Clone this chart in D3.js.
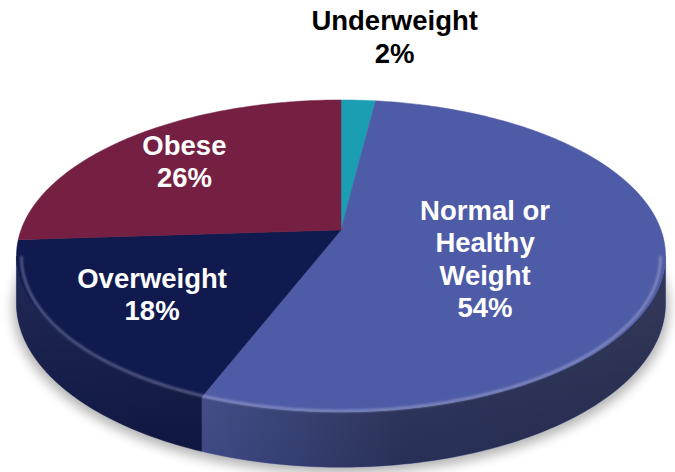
<!DOCTYPE html>
<html>
<head>
<meta charset="utf-8">
<script src="https://cdn.jsdelivr.net/npm/d3@7"></script>
<style>
  html, body { margin: 0; background: #fff; }
  svg { display: block; }
</style>
</head>
<body>
<div id="chart"></div>
<script>
// data
const categories = ["Underweight", "Normal or Healthy Weight", "Overweight", "Obese"];
const values = [2, 54, 18, 26];
const labelLines = [["Underweight"], ["Normal or", "Healthy", "Weight"], ["Overweight"], ["Obese"]];
const topColors = ["#1b9eb1", "#4e5ba6", "#111a4f", "#752043"];

// layout of the tilted pie
const width = 675, height = 472;
const cx = 341, cy = 230, rx = 320, ry = 151.7, depth = 46, persp = 6;
const labelRadius = [1.62, 0.456, 0.681, 0.727];
const labelShift = [[28, 0], [0, 11], [0, -1], [0, 1]];
const fontSize = 27.5, lineGap = 32.5;

// angle (clockwise from 12 o'clock), radius 0..1, z 0 = top face, 1 = bottom
function proj(a, r, z) {
  const X = r * Math.sin(a), Y = -r * Math.cos(a);
  const s = persp / (persp - Y);
  return [cx + rx * X * s, cy + ry * Y * s + depth * z * s];
}

function arcPoints(a0, a1, r, z) {
  const n = Math.max(2, Math.ceil((a1 - a0) / (Math.PI / 180)) + 1);
  return d3.range(n).map(i => proj(a0 + (a1 - a0) * i / (n - 1), r, z));
}

const line = d3.line();
const pie = d3.pie().sort(null).value(d => d)(values);

const svg = d3.select("#chart").append("svg")
  .attr("width", width)
  .attr("height", height);

const defs = svg.append("defs");
defs.append("filter").attr("id", "blur").attr("x", "-10%").attr("y", "-10%").attr("width", "120%").attr("height", "130%")
  .append("feGaussianBlur").attr("stdDeviation", 6);
defs.append("filter").attr("id", "soft")
  .append("feGaussianBlur").attr("stdDeviation", 1.2);

const shade = defs.append("linearGradient").attr("id", "sideShade")
  .attr("gradientUnits", "userSpaceOnUse")
  .attr("x1", 0).attr("x2", width).attr("y1", 0).attr("y2", 0);
[[0, 0.12], [0.3, 0.2], [0.6, 0.48], [1, 0.55]].forEach(([o, a]) =>
  shade.append("stop").attr("offset", o).attr("stop-color", "#000").attr("stop-opacity", a));

const vshade = defs.append("linearGradient").attr("id", "sideLight")
  .attr("x1", 0).attr("x2", 0).attr("y1", 0).attr("y2", 1);
vshade.append("stop").attr("offset", 0).attr("stop-color", "#fff").attr("stop-opacity", 0.08);
vshade.append("stop").attr("offset", 1).attr("stop-color", "#fff").attr("stop-opacity", 0);

// soft shadow under the pie
const bottomRing = arcPoints(0, 2 * Math.PI, 1.01, 1);
svg.append("path")
  .attr("d", line(bottomRing) + "Z")
  .attr("transform", "translate(0,4)")
  .attr("fill", "#000")
  .attr("opacity", 0.3)
  .attr("filter", "url(#blur)");

// visible part of the wall: between the left and right silhouette points
const angles = d3.range(0, 3600).map(i => i * Math.PI / 1800);
const front0 = d3.greatest(angles.filter(a => a < Math.PI), a => proj(a, 1, 0)[0]);
const front1 = d3.least(angles.filter(a => a > Math.PI), a => proj(a, 1, 0)[0]);

pie.forEach((p, i) => {
  const a0 = Math.max(p.startAngle, front0), a1 = Math.min(p.endAngle, front1);
  if (a1 <= a0) return;
  const pts = arcPoints(a0, a1, 1, 0).concat(arcPoints(a0, a1, 1, 1).reverse());
  svg.append("path").attr("d", line(pts) + "Z").attr("fill", topColors[i])
    .attr("stroke", topColors[i]).attr("stroke-width", 0.5);
});
const wall = arcPoints(front0, front1, 1, 0).concat(arcPoints(front0, front1, 1, 1).reverse());
svg.append("path").attr("d", line(wall) + "Z").attr("fill", "url(#sideShade)");
svg.append("path").attr("d", line(wall) + "Z").attr("fill", "url(#sideLight)");

// top faces
pie.forEach((p, i) => {
  const pts = [proj(0, 0, 0)].concat(arcPoints(p.startAngle, p.endAngle, 1, 0));
  svg.append("path").attr("d", line(pts) + "Z").attr("fill", topColors[i])
    .attr("stroke", topColors[i]).attr("stroke-width", 0.5);
});

// bevel highlight along the front rim
svg.append("path")
  .attr("d", line(arcPoints(Math.PI * 0.55, Math.PI * 1.45, 0.985, 0.04)))
  .attr("fill", "none")
  .attr("stroke", "#fff")
  .attr("stroke-opacity", 0.3)
  .attr("stroke-width", 2.5)
  .attr("filter", "url(#soft)");

// labels
pie.forEach((p, i) => {
  const mid = (p.startAngle + p.endAngle) / 2;
  const [lx, ly] = proj(mid, labelRadius[i], 0);
  const lines = labelLines[i].concat([values[i] + "%"]);
  const x = lx + labelShift[i][0];
  const y0 = ly + labelShift[i][1] - (lines.length - 1) * lineGap / 2;
  const outside = labelRadius[i] > 1;
  const t = svg.append("text")
    .attr("text-anchor", "middle")
    .attr("font-family", "'Liberation Sans', Arial, sans-serif")
    .attr("font-weight", "bold")
    .attr("font-size", fontSize)
    .attr("fill", outside ? "#000" : "#fff");
  lines.forEach((s, k) => {
    t.append("tspan").attr("x", x).attr("y", y0 + k * lineGap + fontSize * 0.36).text(s);
  });
});
</script>
</body>
</html>
